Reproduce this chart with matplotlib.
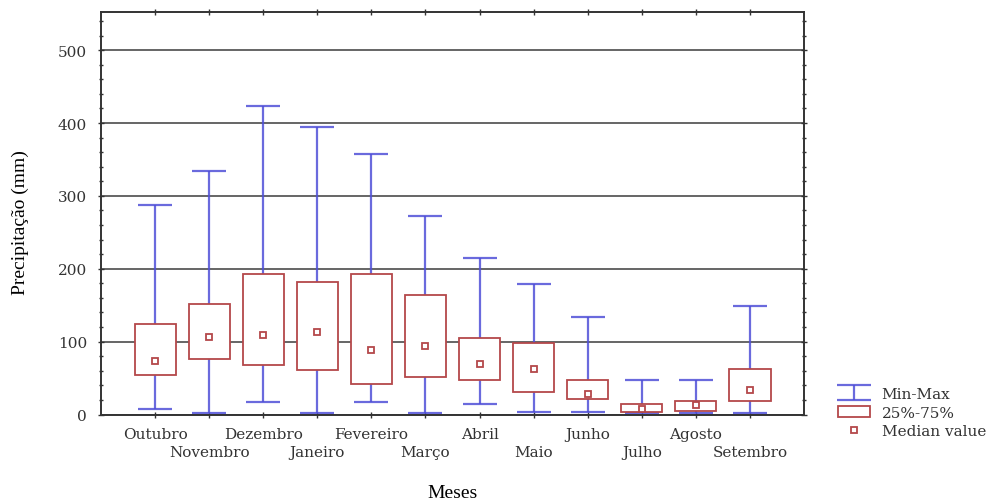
import numpy as np
import matplotlib.pyplot as plt
from matplotlib.ticker import MultipleLocator

plt.rcParams['font.family'] = ['Liberation Serif', 'DejaVu Serif']

meses = ['Outubro', 'Novembro', 'Dezembro', 'Janeiro', 'Fevereiro', 'Março',
         'Abril', 'Maio', 'Junho', 'Julho', 'Agosto', 'Setembro']
p_min = [7, 2, 17, 2, 17, 2, 14, 4, 4, 2, 2, 2]
p_max = [288, 334, 423, 395, 358, 272, 215, 179, 134, 47, 47, 149]
p25 = [54, 76, 68, 61, 42, 51, 47, 31, 21, 3, 5, 18]
p75 = [124, 152, 193, 182, 193, 164, 105, 98, 47, 15, 18, 62]
mediana = [73, 106, 109, 113, 89, 94, 69, 62, 28, 8, 13, 34]

azul = '#5050d8'
vermelho = '#b4484a'
cinza = '#333333'
fonte_ticks = 'DejaVu Serif'

fig = plt.figure(figsize=(9.93, 5.02), dpi=100)
ax = fig.add_axes([0.1017, 0.1723, 0.708, 0.8012])

x = np.arange(1, len(meses) + 1)
p_min = np.array(p_min)
p_max = np.array(p_max)
centro = (p_min + p_max) / 2

# min-max whiskers
wh = ax.errorbar(x, centro, yerr=[centro - p_min, p_max - centro], fmt='none',
                 ecolor=azul, elinewidth=1.6, capsize=12, capthick=1.6,
                 alpha=0.85, zorder=2, label='Min-Max')

# 25%-75% boxes
bx = ax.bar(x, np.array(p75) - np.array(p25), bottom=p25, width=0.76,
            color='white', edgecolor=vermelho, linewidth=1.3, zorder=3,
            label='25%-75%')

# medians
md, = ax.plot(x, mediana, 's', ms=5, mfc='white', mec=vermelho, mew=1.3,
              zorder=4, label='Median value')

ax.set_xlim(0, 13)
ax.set_ylim(0, 552)
ax.yaxis.set_major_locator(MultipleLocator(100))
ax.yaxis.set_minor_locator(MultipleLocator(20))
ax.grid(axis='y', which='major', color='#3c3c3c', linewidth=1.1, zorder=0)
ax.set_axisbelow(True)

ax.set_xticks(x)
ax.set_xticklabels(meses, fontsize=11, color=cinza, family=fonte_ticks)
# alternate month names on two rows
for t in ax.get_xticklabels()[1::2]:
    t.set_y(-0.045)
ax.tick_params(axis='x', which='both', direction='inout', length=4,
               top=True, width=1, color=cinza, pad=7)
ax.tick_params(axis='y', which='both', direction='inout', length=4,
               right=True, width=1, color=cinza, pad=8)
ax.tick_params(axis='y', which='minor', length=3)
for t in ax.get_yticklabels():
    t.set_family(fonte_ticks)
    t.set_fontsize(11)
    t.set_color(cinza)

for s in ax.spines.values():
    s.set_color(cinza)
    s.set_linewidth(1.4)

ax.set_ylabel('Precipitação (mm)', fontsize=14)
ax.yaxis.set_label_coords(-0.103, 0.48)
ax.set_xlabel('Meses', fontsize=14)
ax.xaxis.set_label_coords(0.5, -0.172)

fig.legend([wh, bx, md], ['Min-Max', '25%-75%', 'Median value'],
           loc='upper left', bbox_to_anchor=(838 / 993, 1 - 388 / 502),
           frameon=False, borderpad=0, borderaxespad=0,
           prop={'family': fonte_ticks, 'size': 11},
           handlelength=2.1, handletextpad=0.75, labelspacing=0.3,
           labelcolor=cinza)

fig.savefig('out.png', dpi=100)
